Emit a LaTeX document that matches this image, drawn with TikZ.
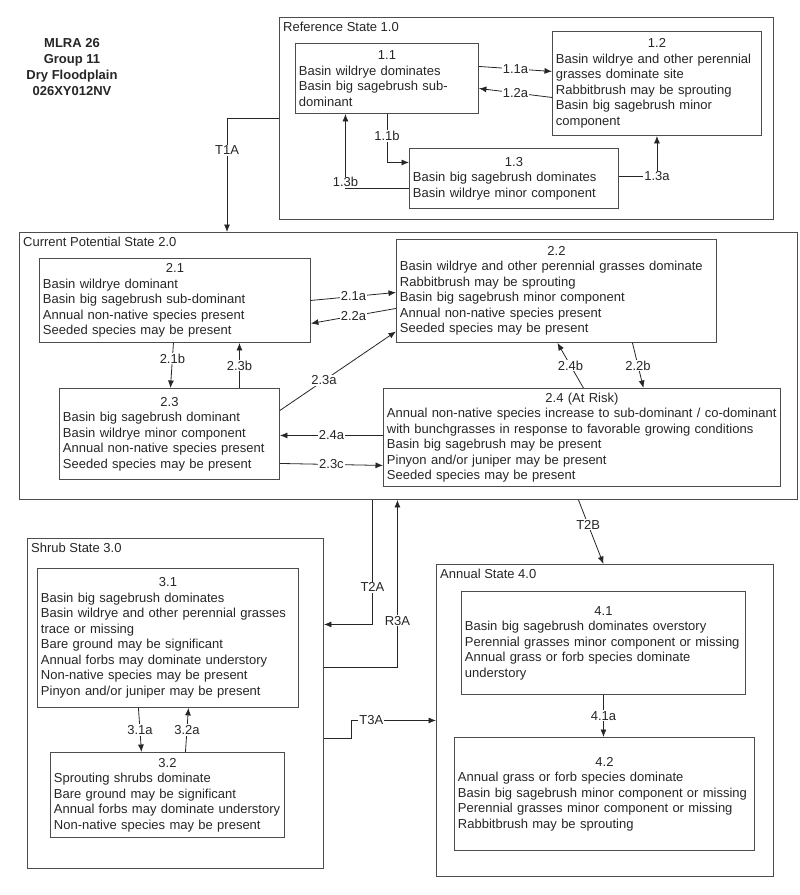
\documentclass[tikz,border=0pt]{standalone}
\usepackage{fontspec}
\setmainfont{Liberation Sans}
\usetikzlibrary{arrows.meta}

\def\shead#1{\makebox[\hsize]{#1}\\}% centred box number

\tikzset{
  stbox/.style={draw=black!70, line width=0.9pt, anchor=north west, inner xsep=3.5pt, inner ysep=2pt, align=left, text=black!85},
  outbox/.style={draw=black!70, line width=0.9pt, anchor=north west},
  stname/.style={anchor=north west, inner xsep=4pt, inner ysep=5pt, text=black!85},
  lbl/.style={fill=white, inner sep=1pt, text=black!85},
  tr/.style={draw=black!85, line width=0.8pt, -{Latex[length=7.5pt,width=6pt]}},
}

\begin{document}
\begin{tikzpicture}[x=1pt, y=-1pt, font=\fontsize{13}{15.5}\selectfont]
        \useasboundingbox (0,0) rectangle (800,895);
        \node[align=center, text=black!85, font=\fontsize{13}{16}\selectfont\bfseries] (title) at (72,67) {MLRA 26\\Group 11\\Dry Floodplain\\026XY012NV};
        % states
        \node[outbox, minimum width=494pt, minimum height=202pt] (ref) at (279,17) {};
        \node[outbox, minimum width=778pt, minimum height=267pt] (cur) at (19,232) {};
        \node[outbox, minimum width=296pt, minimum height=330pt] (shr) at (27,538) {};
        \node[outbox, minimum width=337pt, minimum height=312pt] (ann) at (436,564) {};
        \node[stname] (reft) at (ref.north west) {Reference State 1.0};
        \node[stname] (curt) at (cur.north west) {Current Potential State 2.0};
        \node[stname] (shrt) at (shr.north west) {Shrub State 3.0};
        \node[stname] (annt) at (ann.north west) {Annual State 4.0};
        % community phases
        \node[stbox, minimum width=183pt, minimum height=70pt, text width=176pt] (s11) at (295,43) {\shead{1.1}Basin wildrye dominates\\Basin big sagebrush sub-\\dominant};
        \node[stbox, minimum width=209pt, minimum height=104pt, text width=202pt] (s12) at (552,31) {\shead{1.2}Basin wildrye and other perennial\\grasses dominate site\\Rabbitbrush may be sprouting\\Basin big sagebrush minor\\component};
        \node[stbox, minimum width=209pt, minimum height=60pt, text width=202pt] (s13) at (409,148) {\shead{1.3}Basin big sagebrush dominates\\Basin wildrye minor component};
        \node[stbox, minimum width=271pt, minimum height=84pt, text width=264pt] (s21) at (39,258) {\shead{2.1}Basin wildrye dominant\\Basin big sagebrush sub-dominant\\Annual non-native species present\\Seeded species may be present};
        \node[stbox, minimum width=320pt, minimum height=103pt, text width=313pt] (s22) at (396,239) {\shead{2.2}Basin wildrye and other perennial grasses dominate\\Rabbitbrush may be sprouting\\Basin big sagebrush minor component\\Annual non-native species present\\Seeded species may be present};
        \node[stbox, minimum width=220pt, minimum height=91pt, text width=213pt] (s23) at (59,388) {\shead{2.3}Basin big sagebrush dominant\\Basin wildrye minor component\\Annual non-native species present\\Seeded species may be present};
        \node[stbox, minimum width=397pt, minimum height=98pt, text width=390pt] (s24) at (383,388) {\shead{2.4 (At Risk)}Annual non-native species increase to sub-dominant / co-dominant\\with bunchgrasses in response to favorable growing conditions\\Basin big sagebrush may be present\\Pinyon and/or juniper may be present\\Seeded species may be present};
        \node[stbox, minimum width=261pt, minimum height=139pt, text width=254pt] (s31) at (37,568) {\shead{3.1}Basin big sagebrush dominates\\Basin wildrye and other perennial grasses\\trace or missing\\Bare ground may be significant\\Annual forbs may dominate understory\\Non-native species may be present\\Pinyon and/or juniper may be present};
        \node[stbox, minimum width=234pt, minimum height=85pt, text width=227pt] (s32) at (50,752) {\shead{3.2}Sprouting shrubs dominate\\Bare ground may be significant\\Annual forbs may dominate understory\\Non-native species may be present};
        \node[stbox, minimum width=284pt, minimum height=103pt, text width=277pt] (s41) at (461,591) {\shead{4.1}Basin big sagebrush dominates overstory\\Perennial grasses minor component or missing\\Annual grass or forb species dominate\\understory};
        \node[stbox, minimum width=300pt, minimum height=113pt, text width=293pt] (s42) at (454,737) {\shead{4.2}Annual grass or forb species dominate\\Basin big sagebrush minor component or missing\\Perennial grasses minor component or missing\\Rabbitbrush may be sprouting};
        % pathways within states
        \draw[tr] ([yshift=12pt]s11.east) -- node[lbl]{1.1a} ([yshift=12pt]s12.west);
        \draw[tr] ([yshift=-14pt]s12.west) -- node[lbl]{1.2a} ([yshift=-10pt]s11.east);
        \draw[tr] (s11.south) |- node[lbl,pos=0.23]{1.1b} ([yshift=16pt]s13.west);
        \draw[tr] ([yshift=-10pt]s13.west) -| node[lbl,anchor=south,pos=0.5]{1.3b} ([xshift=-41.5pt]s11.south);
        \draw[tr] ([yshift=2pt]s13.east) -| node[lbl,pos=0.5]{1.3a} (s12.south);
        \draw[tr] (s21.east) -- node[lbl]{2.1a} ([yshift=-1.5pt]s22.west);
        \draw[tr] ([yshift=-17.5pt]s22.west) -- node[lbl]{2.2a} ([yshift=-23pt]s21.east);
        \draw[tr] ([xshift=-1.5pt]s21.south) -- node[lbl,pos=0.35]{2.1b} ([xshift=1pt]s23.north);
        \draw[tr] ([xshift=70pt]s23.north) -- node[lbl]{2.3b} ([xshift=64.5pt]s21.south);
        \draw[tr] ([yshift=23.5pt]s23.east) -- node[lbl,pos=0.38]{2.3a} ([yshift=-40.5pt]s22.west);
        \draw[tr] ([yshift=2pt]s24.west) -- node[lbl]{2.4a} ([yshift=-1.5pt]s23.east);
        \draw[tr] ([yshift=-29.5pt]s23.east) -- node[lbl]{2.3c} ([yshift=-28pt]s24.west);
        \draw[tr] ([xshift=1.5pt]s24.north) -- node[lbl]{2.4b} ([xshift=1pt]s22.south);
        \draw[tr] ([xshift=76pt]s22.south) -- node[lbl]{2.2b} ([xshift=61.5pt]s24.north);
        \draw[tr] ([xshift=-29.5pt]s31.south) -- node[lbl]{3.1a} ([xshift=-26pt]s32.north);
        \draw[tr] ([xshift=18pt]s32.north) -- node[lbl]{3.2a} ([xshift=20.5pt]s31.south);
        \draw[tr] (s41.south) -- node[lbl]{4.1a} ([xshift=-1pt]s42.north);
        % transitions between states
        \draw[tr] (ref.west) -| node[lbl,pos=0.64]{T1A} ([xshift=208pt]cur.north west);
        \draw[tr] ([xshift=170pt]cur.south) -- node[lbl,pos=0.39]{T2B} ([xshift=-1.5pt]ann.north);
        \draw[tr] ([xshift=-36pt]cur.south) |- node[lbl,pos=0.35]{T2A} ([yshift=79pt]shr.east);
        \draw[tr] ([yshift=36pt]shr.east) -| node[lbl,pos=0.64]{R3A} ([xshift=-11pt]cur.south);
        \draw[tr] ([yshift=-35pt]shr.east) -- ++(27,0) |- node[lbl,pos=0.62]{T3A} (ann.west);
\end{tikzpicture}
\end{document}
